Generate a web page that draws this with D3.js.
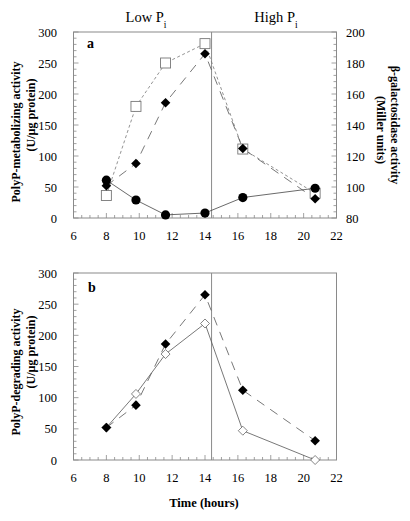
<!DOCTYPE html>
<html><head><meta charset="utf-8">
<script src="https://cdn.jsdelivr.net/npm/d3@7"></script>
<style>body{margin:0;background:#fff}svg{display:block}text{font-family:"Liberation Serif","Times New Roman",serif}</style>
</head><body><svg id="c" width="410" height="521"></svg>
<script>
// ---- data ----
const times = [8.0, 9.8, 11.6, 14.0, 16.3, 20.7];
const polyPKinase = [61, 29, 5, 8, 33, 48];            // filled circles, panel a (left axis)
const polyPDegradingA = [52, 88, 186, 265, 112, 31];   // filled diamonds, panel a (left axis)
const betaGalactosidase = [94.5, 152, 180, 192.5, 124.5, 96]; // open squares, panel a (right axis)
const polyPDegradingB = [52, 88, 186, 265, 112, 31];   // filled diamonds, panel b
const polyPDegradingOpen = [52, 106, 170, 219, 47, 0]; // open diamonds, panel b
const shiftTime = 14.4;
const xTicks = [6, 8, 10, 12, 14, 16, 18, 20, 22];
const yTicks = [0, 50, 100, 150, 200, 250, 300];
const yRightTicks = [80, 100, 120, 140, 160, 180, 200];

const svg = d3.select("#c");
const L = 73.5, R = 336.5;
const x = d3.scaleLinear().domain([6, 22]).range([L, R]);
const panels = [{top: 32, bottom: 218}, {top: 273, bottom: 460}];
const axisCol = "#8a8a8a";

function drawFrame(p, rightAxis) {
  const y = d3.scaleLinear().domain([0, 300]).range([p.bottom, p.top]);
  const g = svg.append("g");
  g.append("rect").attr("x", L).attr("y", p.top).attr("width", R - L).attr("height", p.bottom - p.top)
    .attr("fill", "none").attr("stroke", axisCol).attr("stroke-width", 1);
  d3.range(6, 22.01, 0.5).forEach(t => {
    const major = Math.abs(t % 2) < 1e-6;
    g.append("line").attr("x1", x(t)).attr("x2", x(t)).attr("y1", p.bottom).attr("y2", p.bottom - (major ? 5 : 3))
      .attr("stroke", axisCol).attr("stroke-width", 0.8);
  });
  g.selectAll(null).data(xTicks).enter().append("text").attr("x", d => x(d)).attr("y", p.bottom + 22)
    .attr("text-anchor", "middle").attr("font-size", 12.5).text(d => d);
  d3.range(0, 300.1, 10).forEach(t => {
    const major = t % 50 === 0;
    g.append("line").attr("x1", L).attr("x2", L + (major ? 5 : 3)).attr("y1", y(t)).attr("y2", y(t))
      .attr("stroke", axisCol).attr("stroke-width", 0.8);
  });
  g.selectAll(null).data(yTicks).enter().append("text").attr("x", 57).attr("y", d => y(d) + 4.5)
    .attr("text-anchor", "end").attr("font-size", 12.5).text(d => d);
  if (rightAxis) {
    const yr = d3.scaleLinear().domain([80, 200]).range([p.bottom, p.top]);
    d3.range(80, 200.1, 4).forEach(t => {
      const major = t % 20 === 0;
      g.append("line").attr("x1", R).attr("x2", R - (major ? 5 : 3)).attr("y1", yr(t)).attr("y2", yr(t))
        .attr("stroke", axisCol).attr("stroke-width", 0.8);
    });
    g.selectAll(null).data(yRightTicks).enter().append("text").attr("x", 346).attr("y", d => yr(d) + 4.5)
      .attr("text-anchor", "start").attr("font-size", 12.5).text(d => d);
  }
  g.append("line").attr("x1", x(shiftTime)).attr("x2", x(shiftTime)).attr("y1", p.top).attr("y2", p.bottom)
    .attr("stroke", "#8a8a8a").attr("stroke-width", 1);
  return y;
}

function series(y, vals, opts) {
  const pts = times.map((t, i) => [x(t), y(vals[i])]);
  svg.append("path").attr("d", d3.line()(pts)).attr("fill", "none")
    .attr("stroke", opts.line).attr("stroke-width", opts.lw || 0.8)
    .attr("stroke-dasharray", opts.dash || null);
  return () => pts.forEach(([px, py]) => {
    if (opts.shape === "circle") {
      svg.append("circle").attr("cx", px).attr("cy", py).attr("r", 4.6).attr("fill", "#000");
    } else if (opts.shape === "diamond") {
      const s = 4.8;
      svg.append("path").attr("d", `M${px},${py - s}L${px + s},${py}L${px},${py + s}L${px - s},${py}Z`)
        .attr("fill", "#000");
    } else if (opts.shape === "odiamond") {
      const s = 4.5;
      svg.append("path").attr("d", `M${px},${py - s}L${px + s},${py}L${px},${py + s}L${px - s},${py}Z`)
        .attr("fill", "#fff").attr("stroke", "#666").attr("stroke-width", 0.8);
    } else if (opts.shape === "square") {
      svg.append("rect").attr("x", px - 5).attr("y", py - 5).attr("width", 10).attr("height", 10)
        .attr("fill", "#fff").attr("stroke", "#777").attr("stroke-width", 0.9);
    }
  });
}

// Panel a
const ya = drawFrame(panels[0], true);
const yaR = d3.scaleLinear().domain([80, 200]).range([panels[0].bottom, panels[0].top]);
const mSq = series(yaR, betaGalactosidase, {shape: "square", line: "#777", dash: "3,2.5"});
const mDa = series(ya, polyPDegradingA, {shape: "diamond", line: "#555", dash: "9,7"});
const mCi = series(ya, polyPKinase, {shape: "circle", line: "#444"});
mSq(); mDa(); mCi();

// Panel b
const yb = drawFrame(panels[1], false);
const mDb = series(yb, polyPDegradingB, {shape: "diamond", line: "#555", dash: "9,7"});
const mOd = series(yb, polyPDegradingOpen, {shape: "odiamond", line: "#555"});
mOd(); mDb();

// Labels
svg.append("text").attr("x", 87).attr("y", 48).attr("font-size", 14).attr("font-weight", "bold").text("a");
svg.append("text").attr("x", 88).attr("y", 292).attr("font-size", 14).attr("font-weight", "bold").text("b");

function pLabel(cx, txt) {
  const t = svg.append("text").attr("x", cx).attr("y", 22).attr("font-size", 14.5).attr("text-anchor", "middle");
  t.append("tspan").text(txt);
  t.append("tspan").attr("dy", 6).attr("font-size", 9.5).text("i");
}
pLabel(146, "Low P");
pLabel(276, "High P");

function vText(cx, cy, rot, txt) {
  svg.append("text").attr("transform", `translate(${cx},${cy}) rotate(${rot})`)
    .attr("text-anchor", "middle").attr("font-size", 12).attr("font-weight", "bold").text(txt);
}
vText(20, 132, -90, "PolyP-metabolizing activity");
vText(35, 115, -90, "(U/\u00b5g protein)");
vText(20, 372, -90, "PolyP-degrading activity");
vText(35, 352, -90, "(U/\u00b5g protein)");
vText(391, 125, 90, "\u03b2-galactosidase activity");
vText(377, 130, 90, "(Miller units)");

svg.append("text").attr("x", 204).attr("y", 507).attr("text-anchor", "middle").attr("font-size", 12.5)
  .attr("font-weight", "bold").text("Time (hours)");
</script></body></html>
